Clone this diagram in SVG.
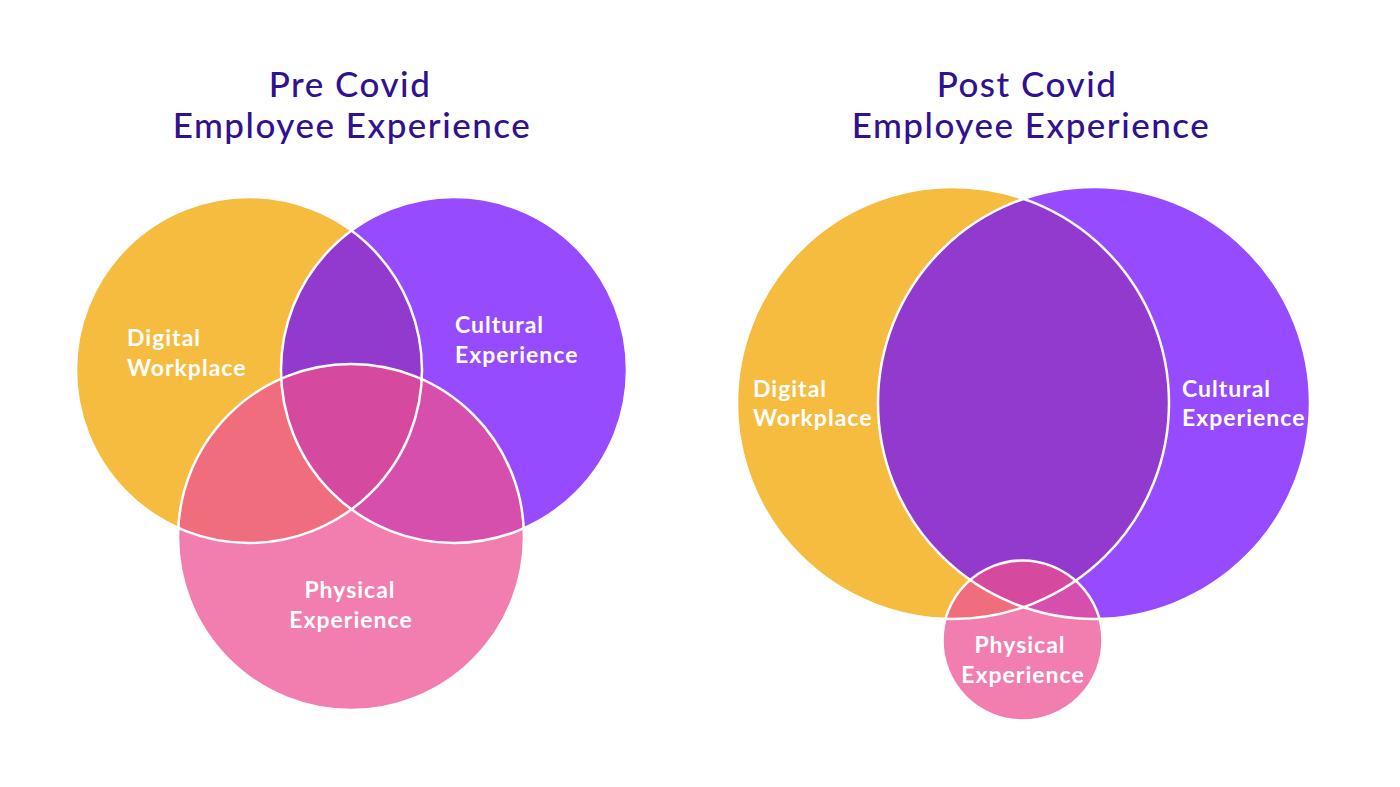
<svg xmlns="http://www.w3.org/2000/svg" width="1400" height="787" viewBox="0 0 1400 787">
  <style>
    .title { font-family: Lato, "Liberation Sans", sans-serif; font-size: 35px; font-weight: 500; fill: #30118F; text-anchor: middle; letter-spacing: 1.5px; }
    .lbl { font-family: Lato, "Liberation Sans", sans-serif; font-size: 23px; font-weight: 700; fill: #FFFFFF; letter-spacing: 1px; }
    .mid { text-anchor: middle; }
    .edge { fill: none; stroke: #FFFFFF; stroke-width: 2.5; }
  </style>
  <defs>
    <clipPath id="cY1"><circle cx="249" cy="370" r="173"/></clipPath>
    <clipPath id="cP1"><circle cx="454" cy="370" r="173"/></clipPath>
    <clipPath id="cK1"><circle cx="351" cy="537" r="173"/></clipPath>
    <clipPath id="cY2"><circle cx="953" cy="403" r="216"/></clipPath>
    <clipPath id="cP2"><circle cx="1094" cy="403" r="216"/></clipPath>
    <clipPath id="cK2"><circle cx="1022.5" cy="640.5" r="80"/></clipPath>
  </defs>
  <rect width="1400" height="787" fill="#FFFFFF"/>

  <g id="title-pre">
    <text class="title" x="350" y="97">Pre Covid</text>
    <text class="title" x="352" y="138">Employee Experience</text>
  </g>
  <g id="title-post">
    <text class="title" x="1027" y="97">Post Covid</text>
    <text class="title" x="1031" y="138">Employee Experience</text>
  </g>

  <!-- Pre Covid Venn -->
  <g id="pre-digital">
    <circle cx="249" cy="370" r="173" fill="#F5BC40"/>
  </g>
  <g id="pre-cultural">
    <circle cx="454" cy="370" r="173" fill="#964BFE"/>
  </g>
  <g id="pre-physical">
    <circle cx="351" cy="537" r="173" fill="#F27EB0"/>
  </g>
  <g id="pre-overlaps">
    <circle cx="454" cy="370" r="173" fill="#923ACE" clip-path="url(#cY1)"/>
    <circle cx="351" cy="537" r="173" fill="#F06D7E" clip-path="url(#cY1)"/>
    <circle cx="351" cy="537" r="173" fill="#D64FAD" clip-path="url(#cP1)"/>
    <g clip-path="url(#cY1)"><circle cx="351" cy="537" r="173" fill="#D54A9E" clip-path="url(#cP1)"/></g>
  </g>
  <g id="pre-edges">
    <circle class="edge" cx="249" cy="370" r="173"/>
    <circle class="edge" cx="454" cy="370" r="173"/>
    <circle class="edge" cx="351" cy="537" r="173"/>
  </g>
  <g id="pre-labels">
    <text class="lbl" x="127" y="346">Digital</text>
    <text class="lbl" x="127" y="376">Workplace</text>
    <text class="lbl" x="455" y="333">Cultural</text>
    <text class="lbl" x="455" y="363">Experience</text>
    <text class="lbl mid" x="350" y="598">Physical</text>
    <text class="lbl mid" x="351" y="628">Experience</text>
  </g>

  <!-- Post Covid Venn -->
  <g id="post-digital">
    <circle cx="953" cy="403" r="216" fill="#F5BC40"/>
  </g>
  <g id="post-cultural">
    <circle cx="1094" cy="403" r="216" fill="#964BFE"/>
  </g>
  <g id="post-physical">
    <circle cx="1022.5" cy="640.5" r="80" fill="#F27EB0"/>
  </g>
  <g id="post-overlaps">
    <circle cx="1094" cy="403" r="216" fill="#923ACE" clip-path="url(#cY2)"/>
    <circle cx="1022.5" cy="640.5" r="80" fill="#F06D7E" clip-path="url(#cY2)"/>
    <circle cx="1022.5" cy="640.5" r="80" fill="#D64FAD" clip-path="url(#cP2)"/>
    <g clip-path="url(#cY2)"><circle cx="1022.5" cy="640.5" r="80" fill="#D54A9E" clip-path="url(#cP2)"/></g>
  </g>
  <g id="post-edges">
    <circle class="edge" cx="953" cy="403" r="216"/>
    <circle class="edge" cx="1094" cy="403" r="216"/>
    <circle class="edge" cx="1022.5" cy="640.5" r="80"/>
  </g>
  <g id="post-labels">
    <text class="lbl" x="753" y="397">Digital</text>
    <text class="lbl" x="753" y="426">Workplace</text>
    <text class="lbl" x="1182" y="397">Cultural</text>
    <text class="lbl" x="1182" y="426">Experience</text>
    <text class="lbl mid" x="1020" y="653">Physical</text>
    <text class="lbl mid" x="1023" y="683">Experience</text>
  </g>
</svg>
